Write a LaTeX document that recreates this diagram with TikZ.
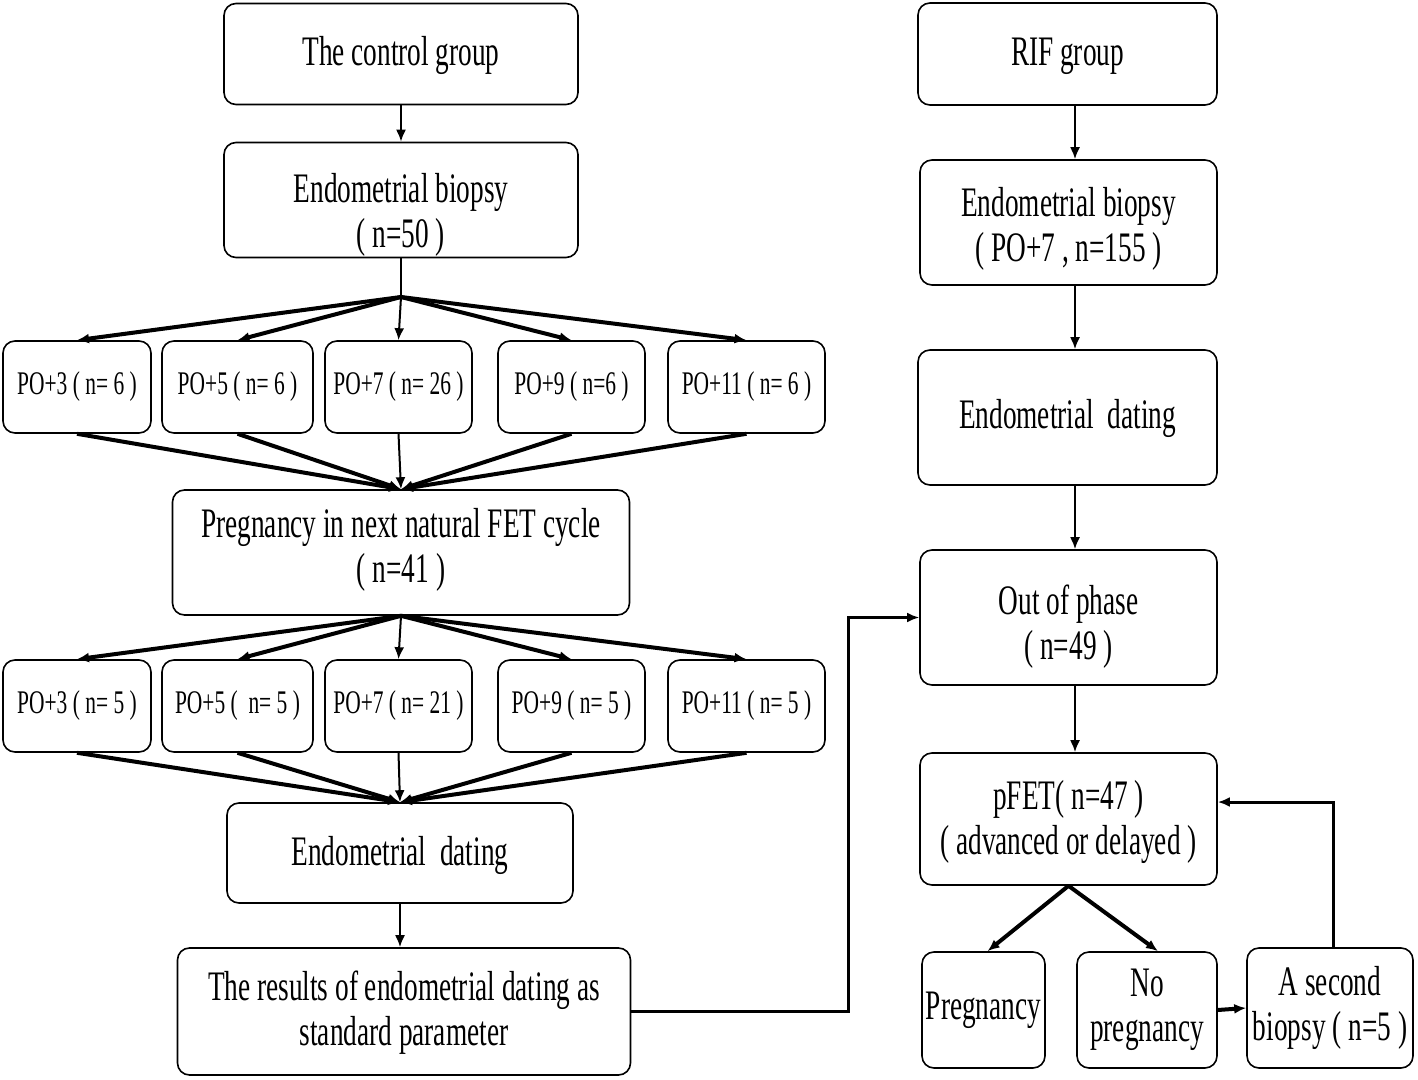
\documentclass[tikz,border=0pt]{standalone}
\usepackage{fontspec}
\setmainfont{Liberation Serif}[FakeStretch=0.65]
\usetikzlibrary{arrows.meta}
\newcommand{\dropby}[2]{\raisebox{-#1}[\height][\depth]{\begin{tabular}{@{}c@{}}#2\end{tabular}}}

\begin{document}
\begin{tikzpicture}[x=0.5pt, y=-0.5pt, >={Latex[length=6pt,width=5pt]},
  box/.style={draw, line width=0.8pt, rounded corners=6pt, align=center, inner sep=0pt, font=\fontsize{21}{22.5}\selectfont},
  pobox/.style={box, minimum height=46pt, font=\fontsize{16.5}{19}\selectfont},
  lnk/.style={black, line width=1pt},
  fat/.style={black, line width=2pt},
  mid/.style={black, line width=1.5pt}]
\useasboundingbox (0,0) rectangle (1418,1080);

\node[box, minimum width=177pt, minimum height=50.5pt] (ctrl) at (401,54) {\dropby{1.5pt}{The control group}};
\node[box, minimum width=177pt, minimum height=57.5pt] (biopsyA) at (401,200) {\dropby{8pt}{Endometrial biopsy\\( n=50 )}};
\foreach \n/\cx/\w/\t in {3/77/74/{PO+3 ( n= 6 )}, 5/237.5/75.5/{PO+5 ( n= 6 )}, 7/398.5/73.5/{PO+7 ( n= 26 )}, 9/571.5/73.5/{PO+9 ( n=6 )}, 11/746.5/78.5/{PO+11 ( n= 6 )}}{
	\node[pobox, minimum width=\w pt] (upper\n) at (\cx,387) {\t};
}
\node[box, minimum width=228.5pt, minimum height=62.5pt] (pregA) at (401,552.5) {\dropby{-1pt}{Pregnancy in next natural FET cycle\\( n=41 )}};
\foreach \n/\cx/\w/\t in {3/77/74/{PO+3 ( n= 5 )}, 5/237.5/75.5/{PO+5 (~ n= 5 )}, 7/398.5/73.5/{PO+7 ( n= 21 )}, 9/571.5/73.5/{PO+9 ( n= 5 )}, 11/746.5/78.5/{PO+11 ( n= 5 )}}{
	\node[pobox, minimum width=\w pt] (lower\n) at (\cx,706) {\t};
}
\node[box, minimum width=173pt, minimum height=50pt] (datingA) at (400,853) {\dropby{1.5pt}{Endometrial~~dating}};
\node[box, minimum width=226.5pt, minimum height=63.5pt] (result) at (404,1011.5) {\dropby{1pt}{The results of endometrial dating as\\standard parameter}};

\node[box, minimum width=149.5pt, minimum height=51pt] (rif) at (1067.5,54) {\dropby{1.5pt}{RIF group}};
\node[box, minimum width=148.5pt, minimum height=62.5pt] (biopsyB) at (1068.5,222.5) {\dropby{4pt}{Endometrial biopsy\\( PO+7 , n=155 )}};
\node[box, minimum width=149.5pt, minimum height=67.5pt] (datingB) at (1067.5,417.5) {\dropby{1pt}{Endometrial~~dating}};
\node[box, minimum width=148.5pt, minimum height=67.5pt] (outphase) at (1068.5,617.5) {\dropby{5pt}{Out of phase\\( n=49 )}};
\node[box, minimum width=148.5pt, minimum height=66pt] (pfet) at (1068.5,819) {\dropby{2pt}{pFET( n=47 )\\( advanced or delayed )}};
\node[box, minimum width=61.5pt, minimum height=58pt] (pregnant) at (983.5,1010) {Pregnancy};
\node[box, minimum width=70pt, minimum height=58pt] (nopreg) at (1147,1010) {No\\pregnancy};
\node[box, minimum width=83pt, minimum height=60pt] (second) at (1330,1008) {A second\\biopsy ( n=5 )};

\draw[lnk, ->] (ctrl.south) -- (biopsyA.north);
\coordinate (fork) at (401,297);
\draw[lnk] (biopsyA.south) -- (fork);
\foreach \n in {3,5,9,11}{
	\draw[fat, ->] (fork) -- (upper\n.north);
	\draw[fat, ->] (upper\n.south) -- (pregA.north);
	\draw[fat, ->] (pregA.south) -- (lower\n.north);
	\draw[fat, ->] (lower\n.south) -- (datingA.north);
}
\draw[lnk, ->] (fork) -- (upper7.north);
\draw[lnk, ->] (upper7.south) -- (pregA.north);
\draw[lnk, ->] (pregA.south) -- (lower7.north);
\draw[lnk, ->] (lower7.south) -- (datingA.north);
\draw[lnk, ->] (datingA.south) -- (datingA.south |- result.north);

\coordinate (bend) at (848,0);
\draw[mid, ->] (result.east) -- (result.east -| bend) |- (outphase.west);

\coordinate (rcol) at (1075,0);
\draw[lnk, ->] (rif.south -| rcol) -- (biopsyB.north -| rcol);
\draw[lnk, ->] (biopsyB.south -| rcol) -- (datingB.north -| rcol);
\draw[lnk, ->] (datingB.south -| rcol) -- (outphase.north -| rcol);
\draw[lnk, ->] (outphase.south -| rcol) -- (pfet.north -| rcol);
\draw[fat, ->] (pfet.south) -- ([xshift=2pt]pregnant.north);
\draw[fat, ->] (pfet.south) -- ([xshift=5.5pt]nopreg.north);
\draw[fat, ->] (nopreg.east) -- (second.west);
\draw[mid, ->] ([xshift=1.5pt]second.north) |- ([yshift=8.5pt]pfet.east);
\end{tikzpicture}
\end{document}
